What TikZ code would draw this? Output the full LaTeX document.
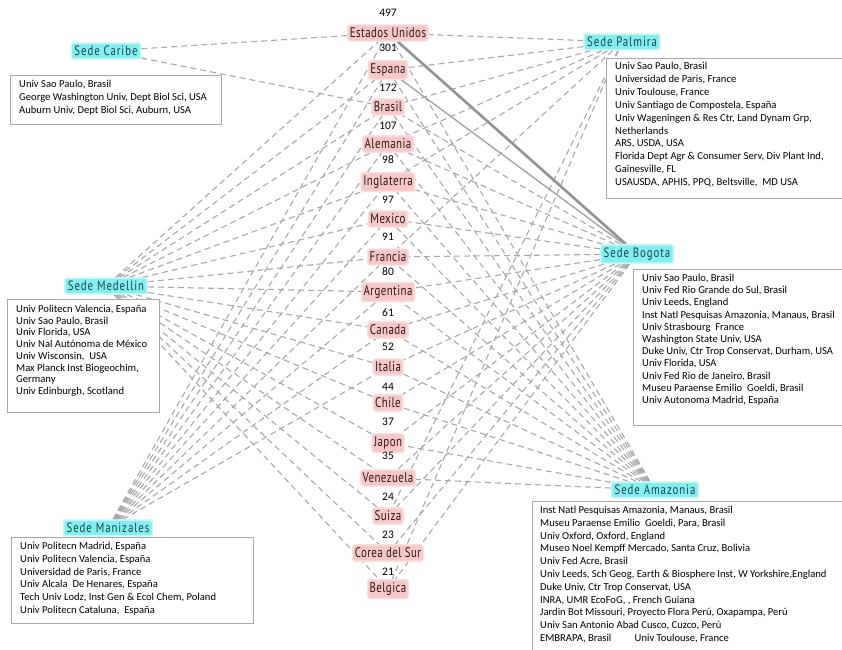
\documentclass[tikz,border=0pt]{standalone}
\usepackage{fontspec}
\newfontfamily\ctyfam[FakeStretch=0.78,LetterSpace=3]{PT Sans}
\newfontfamily\sedefam[FakeStretch=0.8,LetterSpace=7]{PT Sans}
\newfontfamily\carl{Carlito}
\definecolor{pinkc}{HTML}{F8C8C8}
\definecolor{pinkglow}{HTML}{FBDDDD}
\definecolor{cyanc}{HTML}{86EEF0}
\definecolor{cyanglow}{HTML}{C4F7F8}
\definecolor{ctytext}{HTML}{2E1818}
\definecolor{sedetext}{HTML}{124848}
\definecolor{edgegray}{HTML}{A8A8A8}
\definecolor{boxgray}{HTML}{A8A8A8}
\pgfdeclarelayer{background}
\pgfsetlayers{background,main}
\tikzset{
  country/.style={rectangle, rounded corners=2.5pt, fill=pinkc, draw=pinkglow, line width=1.4pt,
    inner xsep=2pt, inner ysep=3pt, text=ctytext, font=\ctyfam\fontsize{14}{15}\selectfont},
  sede/.style={rectangle, rounded corners=1.5pt, fill=cyanc, draw=cyanglow, line width=1.6pt,
    inner xsep=3pt, inner ysep=3pt, text=sedetext, font=\sedefam\fontsize{13.5}{14}\selectfont},
  num/.style={inner sep=0pt, font=\carl\fontsize{11.5}{12}\selectfont},
  dl/.style={draw=edgegray, dash pattern=on 6pt off 4pt, line width=1.1pt},
  infobox/.style={rectangle, draw=boxgray, line width=0.7pt, anchor=north west, inner sep=0pt, fill=white},
  infotext/.style={anchor=north west, align=left, inner sep=0pt, font=\carl\fontsize{10.6}{12.9}\selectfont},
}
\begin{document}
\begin{tikzpicture}[x=1pt,y=-1pt]
\clip (0,0) rectangle (842,649);

% countries
\node[country] (eu)  at (388,33)  {Estados Unidos};
\node[country] (esp) at (388,70)  {Espana};
\node[country] (bra) at (388,107) {Brasil};
\node[country] (ale) at (388,144) {Alemania};
\node[country] (ing) at (388,182) {Inglaterra};
\node[country] (mex) at (388,219) {Mexico};
\node[country] (fra) at (388,257) {Francia};
\node[country] (arg) at (388,292) {Argentina};
\node[country] (can) at (388,330) {Canada};
\node[country] (ita) at (388,367) {Italia};
\node[country] (chi) at (388,403) {Chile};
\node[country] (jap) at (388,443) {Japon};
\node[country] (ven) at (388,478) {Venezuela};
\node[country] (sui) at (388,516) {Suiza};
\node[country] (cor) at (388,553) {Corea del Sur};
\node[country] (bel) at (388,589) {Belgica};

% counts
\node[num] (n1)  at (388,13)  {497};
\node[num] (n2)  at (388,48)  {301};
\node[num] (n3)  at (388,88)  {172};
\node[num] (n4)  at (388,126) {107};
\node[num] (n5)  at (388,160) {98};
\node[num] (n6)  at (388,200) {97};
\node[num] (n7)  at (388,237) {91};
\node[num] (n8)  at (388,272) {80};
\node[num] (n9)  at (388,313) {61};
\node[num] (n10) at (388,347) {52};
\node[num] (n11) at (388,387) {44};
\node[num] (n12) at (388,422) {37};
\node[num] (n13) at (388,456) {35};
\node[num] (n14) at (388,497) {24};
\node[num] (n15) at (388,535) {23};
\node[num] (n16) at (388,572) {21};

% sedes
\node[sede] (car) at (106,51)  {Sede Caribe};
\node[sede] (pal) at (622,42)  {Sede Palmira};
\node[sede] (med) at (106,286) {Sede Medellin};
\node[sede] (bog) at (637,254) {Sede Bogota};
\node[sede] (man) at (108,528) {Sede Manizales};
\node[sede] (ama) at (655,490) {Sede Amazonia};

% info boxes
\node[infobox, minimum width=211pt, minimum height=49pt] (carB) at (10,75) {};
\node[infotext] (carT) at ([xshift=9pt,yshift=-5pt]carB.north west)
 {Univ Sao Paulo, Brasil\\George Washington Univ, Dept Biol Sci, USA\\Auburn Univ, Dept Biol Sci, Auburn, USA};

\node[infobox, minimum width=260pt, minimum height=140pt] (palB) at (606,58) {};
\node[infotext] (palT) at ([xshift=9pt,yshift=-4pt]palB.north west)
 {Univ Sao Paulo, Brasil\\Universidad de Paris, France\\Univ Toulouse, France\\Univ Santiago de Compostela, España\\Univ Wageningen \& Res Ctr, Land Dynam Grp,\\Netherlands\\ARS, USDA, USA\\Florida Dept Agr \& Consumer Serv, Div Plant Ind,\\Gainesville, FL\\USAUSDA, APHIS, PPQ, Beltsville,\ \ MD USA};

\node[infobox, minimum width=240pt, minimum height=156pt] (bogB) at (633,269) {};
\node[infotext, font=\carl\fontsize{10.6}{12.2}\selectfont] (bogT) at ([xshift=9pt,yshift=-5pt]bogB.north west)
 {Univ Sao Paulo, Brasil\\Univ Fed Rio Grande do Sul, Brasil\\Univ Leeds, England\\Inst Natl Pesquisas Amazonia, Manaus, Brasil\\Univ Strasbourg\ \ France\\Washington State Univ, USA\\Duke Univ, Ctr Trop Conservat, Durham, USA\\Univ Florida, USA\\Univ Fed Rio de Janeiro, Brasil\\Museu Paraense Emilio\ \ Goeldi, Brasil\\Univ Autonoma Madrid, España};

\node[infobox, minimum width=152pt, minimum height=113pt] (medB) at (7,299) {};
\node[infotext, font=\carl\fontsize{10.6}{11.7}\selectfont] (medT) at ([xshift=9pt,yshift=-6pt]medB.north west)
 {Univ Politecn Valencia, España\\Univ Sao Paulo, Brasil\\Univ Florida, USA\\Univ Nal Autónoma de México\\Univ Wisconsin,\ \ USA\\Max Planck Inst Biogeochim,\\Germany\\Univ Edinburgh, Scotland};

\node[infobox, minimum width=242pt, minimum height=86pt] (manB) at (11,537) {};
\node[infotext, font=\carl\fontsize{10.6}{12.8}\selectfont] (manT) at ([xshift=9pt,yshift=-5pt]manB.north west)
 {Univ Politecn Madrid, España\\Univ Politecn Valencia, España\\Universidad de Paris, France\\Univ Alcala\ \ De Henares, España\\Tech Univ Lodz, Inst Gen \& Ecol Chem, Poland\\Univ Politecn Cataluna,\ \ España};

\node[infobox, minimum width=330pt, minimum height=170pt] (amaB) at (532,501) {};
\node[infotext, font=\carl\fontsize{10.6}{12.8}\selectfont] (amaT) at ([xshift=8pt,yshift=-5pt]amaB.north west)
 {Inst Natl Pesquisas Amazonia, Manaus, Brasil\\Museu Paraense Emilio\ \ Goeldi, Para, Brasil\\Univ Oxford, Oxford, England\\Museo Noel Kempff Mercado, Santa Cruz, Bolivia\\Univ Fed Acre, Brasil\\Univ Leeds, Sch Geog, Earth \& Biosphere Inst, W Yorkshire,England\\Duke Univ, Ctr Trop Conservat, USA\\INRA, UMR EcoFoG, , French Guiana\\Jardin Bot Missouri, Proyecto Flora Perú, Oxapampa, Perú\\Univ San Antonio Abad Cusco, Cuzco, Perú\\EMBRAPA, Brasil\hspace{2.2em}Univ Toulouse, France};

\begin{pgfonlayer}{background}
  \fill[white] (0,0) rectangle (842,649);
  \draw[dl] (car) -- (eu);
  \draw[dl] (car) -- (bra);
  \foreach \c in {eu,esp,bra,ale,ing,fra,sui,bel}
    \draw[dl] (pal) -- (\c);
  \foreach \c in {eu,esp,bra,ale,ing,mex,fra,arg,can,ita,chi,jap,ven,sui,cor,bel}
    \draw[dl] (med) -- (\c);
  \foreach \c in {eu,esp,bra,ale,ing,mex,fra,arg,can,ita}
    \draw[dl] (man) -- (\c);
  \foreach \c in {bra,ale,ing,mex,fra,arg,can,ita,chi,jap,ven,sui,cor,bel}
    \draw[dl] (bog) -- (\c);
  \foreach \c in {eu,esp,bra,ale,ing,mex,fra,arg,can,ita,chi,jap,ven}
    \draw[dl] (ama) -- (\c);
  \draw[draw=gray!85, line width=2.6pt] (eu) -- (bog);
  \draw[draw=gray!75, line width=1.3pt] (esp) -- (bog);
\end{pgfonlayer}
\end{tikzpicture}
\end{document}
